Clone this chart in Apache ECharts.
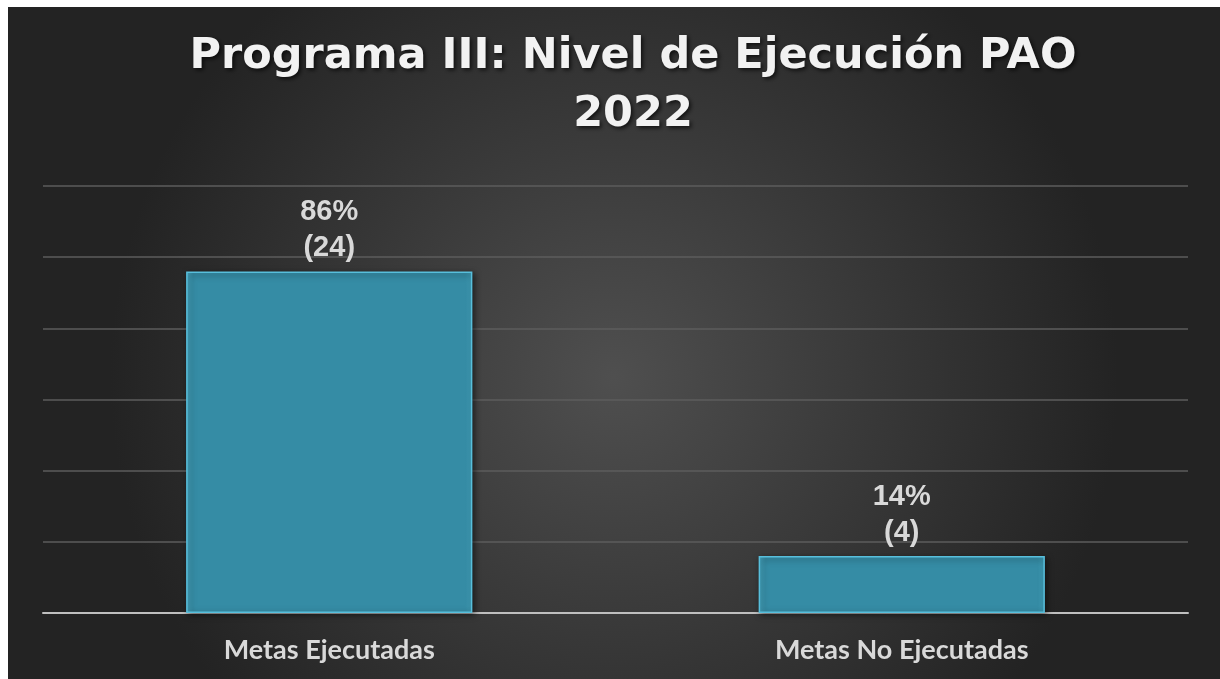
<!DOCTYPE html>
<html>
<head>
<meta charset="utf-8">
<script src="https://cdn.jsdelivr.net/npm/echarts@6/dist/echarts.min.js"></script>
<style>
  html, body { margin: 0; padding: 0; background: #fff; }
  #chart { position: absolute; left: 8px; top: 7px; width: 1212px; height: 672px; }
</style>
</head>
<body>
<div id="chart"></div>
<script>
  // chart values
  const categories = ['Metas Ejecutadas', 'Metas No Ejecutadas']
  const metas = [24, 4]
  const porcentajes = [86, 14]

  const chart = echarts.init(document.getElementById('chart'))

  chart.setOption({
    backgroundColor: {
      type: 'radial', x: 0.5, y: 0.55, r: 0.75,
      colorStops: [
        { offset: 0, color: '#4f4f4f' },
        { offset: 1, color: '#232323' }
      ]
    },
    title: {
      text: 'Programa III: Nivel de Ejecución PAO\n2022',
      left: 620,
      textAlign: 'center',
      top: 16,
      textStyle: {
        fontFamily: 'DejaVu Sans',
        fontWeight: 'bold',
        fontSize: 43,
        lineHeight: 58,
        color: '#f2f2f2',
        textShadowColor: 'rgba(0,0,0,0.7)',
        textShadowBlur: 4,
        textShadowOffsetX: 2,
        textShadowOffsetY: 2
      }
    },
    grid: { left: 35, right: 32, top: 179, bottom: 66 },
    xAxis: {
      type: 'category',
      data: categories,
      axisLine: { lineStyle: { color: '#bfbfbf', width: 2 } },
      axisTick: { show: false },
      axisLabel: {
        margin: 24,
        color: '#d9d9d9',
        fontFamily: 'Lato',
        fontWeight: 'bold',
        fontSize: 27
      }
    },
    yAxis: {
      type: 'value',
      min: 0,
      max: 30,
      interval: 5,
      axisLabel: { show: false },
      axisLine: { show: false },
      axisTick: { show: false },
      splitLine: { lineStyle: { color: '#5c5c5c', width: 1.5 } }
    },
    series: [{
      type: 'bar',
      data: metas,
      barWidth: '50%',
      itemStyle: {
        color: {
          type: 'linear', x: 0, y: 0, x2: 1, y2: 0,
          colorStops: [
            { offset: 0, color: '#45a3bd' },
            { offset: 0.025, color: '#358ca5' },
            { offset: 0.975, color: '#358ca5' },
            { offset: 1, color: '#3f9bb4' }
          ]
        },
        borderColor: '#58bfdc',
        borderWidth: 1.5,
        shadowColor: 'rgba(0,0,0,0.5)',
        shadowBlur: 6,
        shadowOffsetX: 2,
        shadowOffsetY: 2
      },
      label: {
        show: true,
        position: 'top',
        distance: 5,
        color: '#d9d9d9',
        fontFamily: 'Liberation Sans',
        fontWeight: 'bold',
        fontSize: 29,
        lineHeight: 36,
        formatter: p => porcentajes[p.dataIndex] + '%\n(' + p.value + ')'
      }
    }]
  })
</script>
</body>
</html>
